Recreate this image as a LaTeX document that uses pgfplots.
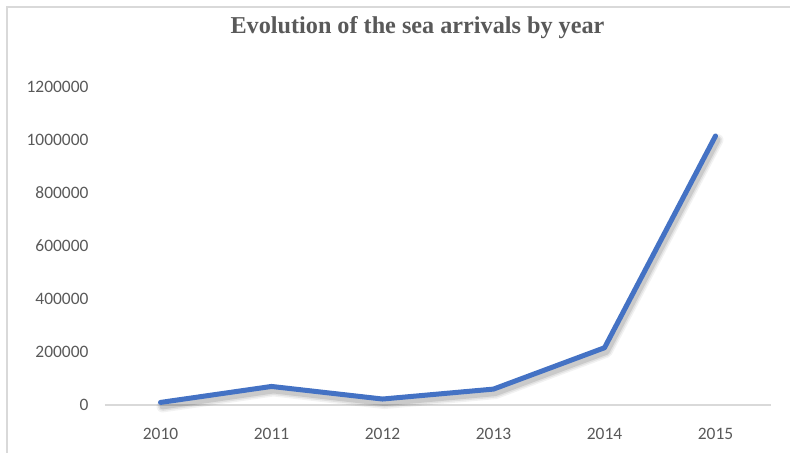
\documentclass[border=0pt]{standalone}
\usepackage{pgfplots}
\pgfplotsset{compat=1.18}
\usepackage{fontspec}
\setmainfont{Carlito}
\newfontfamily\titlefont{Liberation Serif}
\definecolor{txt}{HTML}{595959}
\definecolor{ln}{HTML}{4472C4}
\definecolor{grd}{HTML}{D9D9D9}
\pgfplotstableread{
x y
0 9700
1 70000
2 22500
3 60000
4 216054
5 1015078
}\arrivals
\begin{document}
\begin{tikzpicture}[x=1bp,y=1bp]
\begin{axis}[name=ax, at={(0,0)}, anchor=south west, scale only axis,
  width=666bp, height=318bp,
  xmin=-0.5, xmax=5.5, ymin=0, ymax=1200000,
  xtick={0,1,2,3,4,5}, xticklabels={2010,2011,2012,2013,2014,2015},
  ytick={0,200000,400000,600000,800000,1000000,1200000},
  scaled y ticks=false,
  axis lines*=left,
  y axis line style={draw=none},
  x axis line style={draw=grd, line width=1.2bp},
  major tick length=0pt,
  tick label style={font=\fontsize{17.5}{20}\selectfont, text=txt},
  /pgf/number format/assume math mode=true,
  yticklabel style={/pgf/number format/fixed, /pgf/number format/1000 sep={}, xshift=-13bp},
  xticklabel style={yshift=-20bp},
  clip=false,
]
\addplot[black, opacity=0.05, line width=12bp, line cap=round, line join=round, xshift=2bp, yshift=-4bp, forget plot] table {\arrivals};
\addplot[black, opacity=0.07, line width=9bp, line cap=round, line join=round, xshift=2bp, yshift=-4bp, forget plot] table {\arrivals};
\addplot[black, opacity=0.10, line width=6bp, line cap=round, line join=round, xshift=2bp, yshift=-4bp, forget plot] table {\arrivals};
\addplot[ln, line width=5bp, line cap=round, line join=round] table {\arrivals};
\end{axis}
\node[anchor=base, font=\titlefont\bfseries\fontsize{24.3}{28}\selectfont, text=txt] at (417.5-105,371) {Evolution of the sea arrivals by year};
\draw[grd, line width=1.5bp] (-98,-120) rectangle (820,398);
\pgfresetboundingbox
\path[use as bounding box] (-105,-48) rectangle (685,405);
\end{tikzpicture}
\end{document}
